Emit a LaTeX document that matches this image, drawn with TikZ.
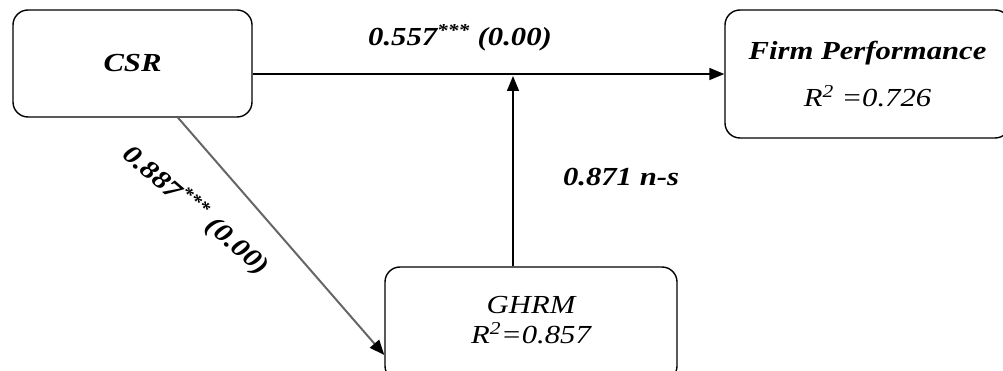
\documentclass[tikz,border=0pt]{standalone}
\usepackage{fontspec}
\setmainfont{Liberation Serif}
\usetikzlibrary{arrows.meta,calc}
\newcommand\widetxt[1]{\scalebox{1.18}[1]{#1}}
\begin{document}
\begin{tikzpicture}[x=1pt,y=-1pt,
  box/.style={draw,line width=1.4pt,rounded corners=15pt,inner sep=0pt,align=center},
  bi/.style={font=\fontsize{26}{31}\selectfont\bfseries\itshape},
  it/.style={font=\fontsize{26}{31}\selectfont\itshape},
  arr/.style={line width=1.5pt,-{Triangle[length=15pt,width=12pt,color=black]}}]
\useasboundingbox (0,0) rectangle (1003,371);
\node[box,bi,minimum width=239pt,minimum height=107pt] (CSR) at (132.5,63.5) {\widetxt{CSR}};
\node[box,minimum width=285pt,minimum height=128pt,font=\fontsize{26}{31}\selectfont\itshape] (FP) at (867.5,74)
  {\widetxt{\bfseries Firm Performance}\\[16pt]\widetxt{R\textsuperscript{2} =0.726}};
\node[box,minimum width=292pt,minimum height=114pt,font=\fontsize{26}{30}\selectfont\itshape,text depth=8pt] (GHRM) at (531,324)
  {\widetxt{GHRM}\\\widetxt{R\textsuperscript{2}=0.857}};
\coordinate (j) at (513,76);
\draw[arr] (CSR.east |- FP.west) -- (FP.west);
\draw[arr] (GHRM.north -| j) -- (j);
\draw[arr,line width=2pt,draw=black!60] ([xshift=45.5pt]CSR.south) -- ([yshift=-31pt]GHRM.west);
\node[bi] (l1) at (460,38) {\widetxt{0.557\textsuperscript{***} (0.00)}};
\node[bi] (l2) at (621,177) {\widetxt{0.871 n-s}};
\node[bi,rotate=-40.6] (l3) at (196,210) {\widetxt{0.887\textsuperscript{***} (0.00)}};
\end{tikzpicture}
\end{document}
